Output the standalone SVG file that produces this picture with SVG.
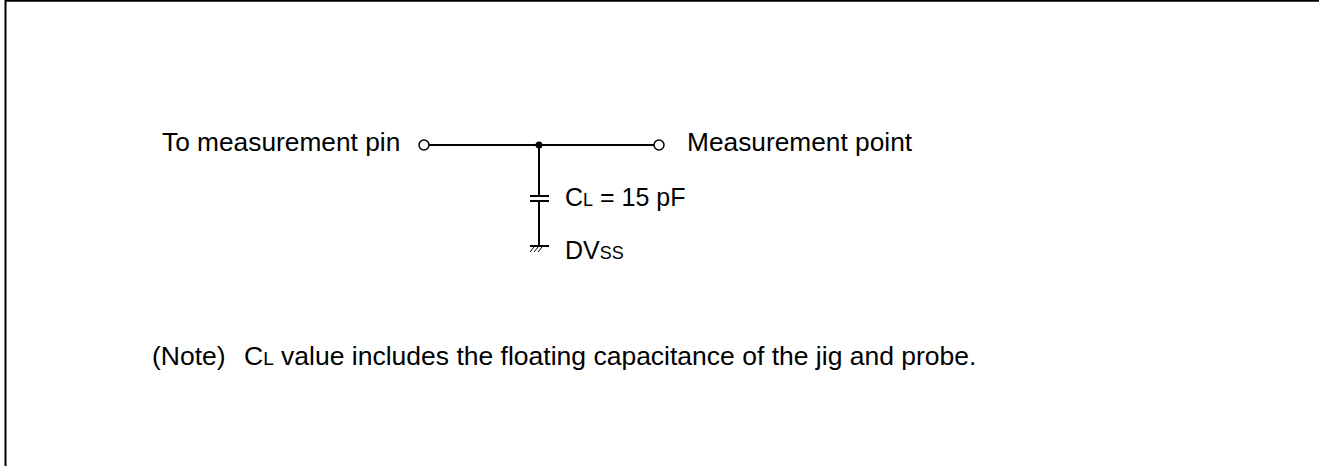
<svg xmlns="http://www.w3.org/2000/svg" width="1319" height="466" viewBox="0 0 1319 466">
<style>
.t{font-family:"Liberation Sans",Arial,sans-serif;font-size:26.3px;fill:#000}
.s{font-family:"Liberation Sans",Arial,sans-serif;font-size:25px;fill:#000}
.n{font-family:"Liberation Sans",Arial,sans-serif;font-size:26.5px;fill:#000}
.w{stroke:#000;stroke-width:2;fill:none}
.o{stroke:#000;stroke-width:1.5;fill:#fff}
</style>
<rect width="1319" height="466" fill="#fff"/>
<path class="w" d="M5.5,466 V0.8 H1319"/>
<g id="connectors">
<line class="w" x1="429" y1="145" x2="654" y2="145"/>
<line class="w" x1="539" y1="145" x2="539" y2="196"/>
<line class="w" x1="539" y1="201" x2="539" y2="246"/>
</g>
<g id="pin-in"><circle class="o" cx="424" cy="145" r="5"/><text class="t" x="162" y="151">To measurement pin</text></g>
<g id="pin-out"><circle class="o" cx="659" cy="145" r="5"/><text class="t" x="687" y="151">Measurement point</text></g>
<g id="junction"><circle cx="539" cy="145" r="3.5" fill="#000"/></g>
<g id="capacitor">
<line class="w" x1="530" y1="196" x2="549" y2="196"/>
<line class="w" x1="530" y1="201" x2="549" y2="201"/>
<text class="s" x="565" y="206">C<tspan font-size="18">L</tspan> = 15 pF</text>
</g>
<g id="ground">
<line class="w" x1="530" y1="246" x2="549" y2="246"/>
<path stroke="#000" stroke-width="1" d="M530,252 L534,247 M534,252 L538,247 M538,252 L542,247"/>
<text class="s" x="565" y="259">DV<tspan font-size="18">SS</tspan></text>
</g>
<g id="note">
<text class="n" x="152" y="365">(Note)</text>
<text class="n" x="244" y="365">C<tspan font-size="19">L</tspan> value includes the floating capacitance of the jig and probe.</text>
</g>
</svg>
